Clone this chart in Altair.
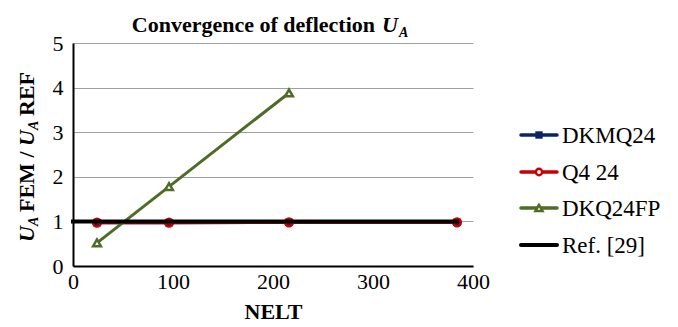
import altair as alt
import pandas as pd

# ---- data ----
nelt = [24, 96, 216, 384]
dkmq24 = [0.97, 0.97, 0.98, 0.98]
q4_24 = [0.97, 0.97, 0.98, 0.98]
dkq24fp_x = [24, 96, 216]
dkq24fp = [0.52, 1.78, 3.88]
ref_x = [0, 384]
ref_y = [1.0, 1.0]
x_ticks = [0, 100, 200, 300, 400]
y_ticks = [0, 1, 2, 3, 4, 5]
legend_names = ["DKMQ24", "Q4 24", "DKQ24FP", "Ref. [29]"]

C_BLUE = "#0A2466"
C_RED = "#C80000"
C_GREEN = "#4F6B26"
C_BLACK = "#000000"
FONT = "Liberation Serif"

df_dk = pd.DataFrame({"x": nelt, "y": dkmq24})
df_q4 = pd.DataFrame({"x": nelt, "y": q4_24})
df_fp = pd.DataFrame({"x": dkq24fp_x, "y": dkq24fp})
df_ref = pd.DataFrame({"x": ref_x, "y": ref_y})

xs = alt.Scale(domain=[0, 400], nice=False)
ys = alt.Scale(domain=[0, 5], nice=False)

X = alt.X("x:Q", scale=xs, axis=alt.Axis(
    values=x_ticks, title="NELT", grid=False, ticks=False, domainColor="black",
    domainWidth=2, labelFont=FONT, labelFontSize=22, labelColor="black", labelFlush=False,
    titleFont=FONT, titleFontSize=22, titleFontWeight="bold", titleColor="black",
    labelPadding=5, titlePadding=9))
Y = alt.Y("y:Q", scale=ys, axis=alt.Axis(
    values=y_ticks, title=None, grid=True, gridColor="#A0A0A0", gridWidth=1,
    ticks=False, domainColor="black", domainWidth=2, labelFont=FONT, labelFlush=False,
    labelFontSize=22, labelColor="black", labelPadding=10))

l_dk = alt.Chart(df_dk).mark_line(color=C_BLUE, strokeWidth=3).encode(x=X, y=Y)
p_dk = alt.Chart(df_dk).mark_point(shape="square", filled=True, color=C_BLUE, size=55, opacity=1).encode(x="x:Q", y="y:Q")
l_q4 = alt.Chart(df_q4).mark_line(color=C_RED, strokeWidth=3).encode(x="x:Q", y="y:Q")
p_q4 = alt.Chart(df_q4).mark_point(shape="circle", filled=False, color=C_RED, size=60, strokeWidth=2.5, opacity=1).encode(x="x:Q", y="y:Q")
l_fp = alt.Chart(df_fp).mark_line(color=C_GREEN, strokeWidth=3).encode(x="x:Q", y="y:Q")
p_fp = alt.Chart(df_fp).mark_point(shape="triangle-up", filled=True, fill="white", stroke=C_GREEN, size=60, strokeWidth=2.5, opacity=1).encode(x="x:Q", y="y:Q")
l_ref = alt.Chart(df_ref).mark_line(color=C_BLACK, strokeWidth=4, strokeCap="square").encode(x="x:Q", y="y:Q")

# ---- title (text marks for italic/subscript) ----
title_main = alt.Chart().mark_text(text="Convergence of deflection", font=FONT, fontSize=22,
                                    fontWeight="bold", align="right", baseline="alphabetic",
                                    color="black").encode(x=alt.value(302), y=alt.value(-11))
title_u = alt.Chart().mark_text(text="U", font=FONT, fontSize=22, fontWeight="bold", fontStyle="italic",
                                 align="left", baseline="alphabetic", color="black").encode(x=alt.value(309), y=alt.value(-11))
title_a = alt.Chart().mark_text(text="A", font=FONT, fontSize=14, fontWeight="bold", fontStyle="italic",
                                 align="left", baseline="alphabetic", color="black").encode(x=alt.value(326), y=alt.value(-6))

# ---- y-axis title pieces (rotated) ----
def ytxt(t, ypos, size=22, italic=False, xoff=-39):
    kw = dict(text=t, font=FONT, fontSize=size, fontWeight="bold", angle=270, align="left",
              baseline="alphabetic", color="black")
    if italic:
        kw["fontStyle"] = "italic"
    return alt.Chart().mark_text(**kw).encode(x=alt.value(xoff), y=alt.value(ypos))

yt = [
    ytxt("U", 199, italic=True),
    ytxt("A", 183, size=14, italic=True, xoff=-35),
    ytxt("FEM /", 169),
    ytxt("U", 103, italic=True),
    ytxt("A", 87, size=14, italic=True, xoff=-35),
    ytxt("REF", 73),
]

# ---- legend ----
leg = []
leg_y = [92, 129, 165, 202]
leg_cols = [C_BLUE, C_RED, C_GREEN, C_BLACK]
for i, name in enumerate(legend_names):
    yy = leg_y[i]
    leg.append(alt.Chart().mark_rule(color=leg_cols[i], strokeWidth=4 if i == 3 else 3.5, strokeCap="round").encode(
        x=alt.value(448), x2=alt.value(484), y=alt.value(yy)))
    leg.append(alt.Chart().mark_text(text=name, font=FONT, fontSize=23, align="left",
                                     baseline="middle", color="black").encode(
        x=alt.value(489), y=alt.value(yy + 1)))
leg.append(alt.Chart().mark_point(shape="square", filled=True, color=C_BLUE, size=55, opacity=1).encode(
    x=alt.value(466), y=alt.value(leg_y[0])))
leg.append(alt.Chart().mark_point(shape="circle", filled=True, fill="white", stroke=C_RED, size=40, strokeWidth=2.5, opacity=1).encode(
    x=alt.value(466), y=alt.value(leg_y[1])))
leg.append(alt.Chart().mark_point(shape="triangle-up", filled=True, fill="white", stroke=C_GREEN, size=50, strokeWidth=2.5, opacity=1).encode(
    x=alt.value(466), y=alt.value(leg_y[2])))

chart = alt.layer(
    l_dk, p_dk, l_q4, p_q4, l_fp, p_fp, l_ref,
    title_main, title_u, title_a, *yt, *leg
).properties(
    width=400, height=223,
    autosize=alt.AutoSizeParams(type="none"),
    padding={"left": 65, "top": 35, "right": 197, "bottom": 56},
    background="white",
).configure_view(stroke=None)

chart.save("out.html", embed_options={"renderer": "svg", "actions": False})
